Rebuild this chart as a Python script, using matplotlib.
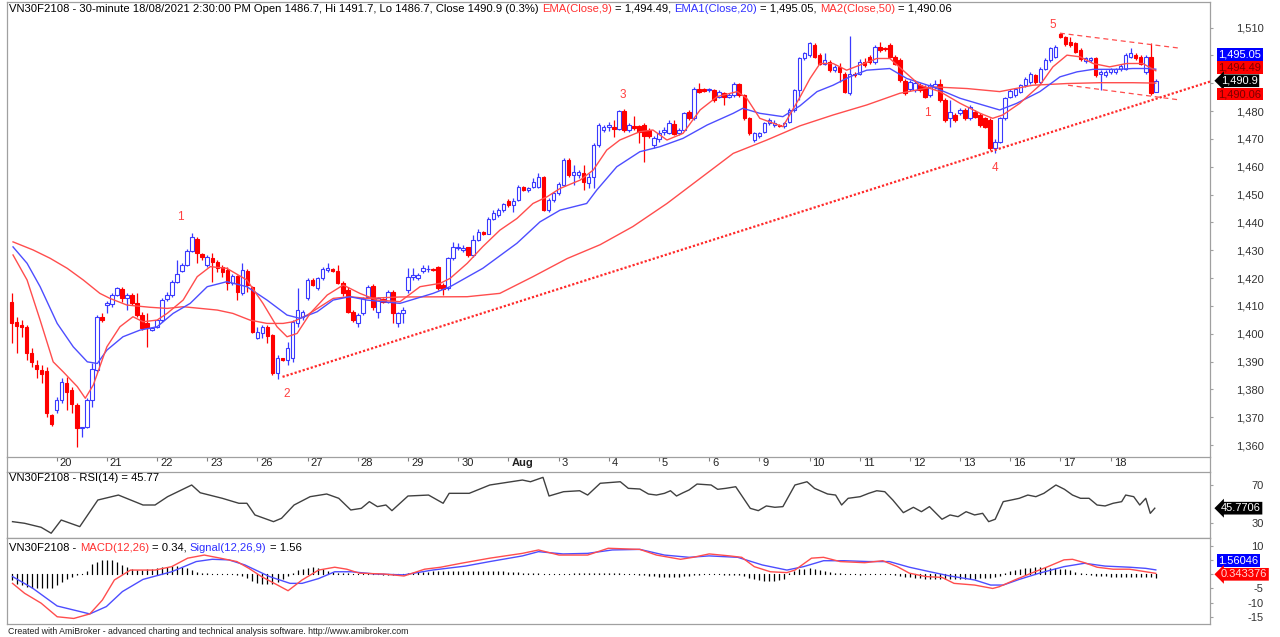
import matplotlib
matplotlib.use("Agg")
import matplotlib.pyplot as plt
import matplotlib.transforms as mtransforms
from matplotlib.lines import Line2D
import numpy as np

plt.rcParams['font.family'] = ['Liberation Sans', 'DejaVu Sans']

# ---------------------------------------------------------------------------
# VN30F2108, 30-minute bars, 19/07/2021 (partial) .. 18/08/2021
# ---------------------------------------------------------------------------
opens = [
    1411.5, 1404.3, 1403.0, 1402.5, 1393.2, 1388.7, 1387.0, 1386.7, 1370.8,          # 19
    1372.6, 1376.2, 1382.4, 1379.8, 1374.4, 1366.0, 1366.4, 1376.2, 1387.0, 1406.1,  # 20
    1410.3, 1410.6, 1413.9, 1415.9, 1412.7, 1413.9, 1410.9, 1406.7, 1403.7, 1401.5,  # 21
    1402.5, 1404.9, 1412.3, 1413.9, 1418.7, 1422.6, 1424.7, 1429.8, 1434.2, 1428.6,  # 22
    1424.7, 1427.1, 1425.9, 1423.8, 1422.9, 1418.1, 1420.7, 1414.5, 1422.6, 1416.9,  # 23
    1398.3, 1400.1, 1402.5, 1399.5, 1386.0, 1391.1, 1390.5, 1391.1, 1403.7, 1406.1,  # 26
    1412.7, 1419.3, 1416.3, 1419.9, 1422.9, 1423.1, 1422.6, 1418.1, 1415.7, 1407.9,  # 27
    1403.7, 1407.3, 1413.3, 1417.1, 1407.9, 1412.3, 1411.5, 1415.1, 1403.7, 1407.3,  # 28
    1415.7, 1420.5, 1419.9, 1422.6, 1423.1, 1423.3, 1423.8, 1417.5, 1416.3, 1427.1,  # 29
    1430.7, 1430.1, 1431.0, 1428.3, 1433.7, 1436.6, 1436.0, 1441.4, 1442.6, 1444.4,  # 30
    1447.8, 1446.2, 1448.0, 1452.8, 1451.6, 1452.8, 1452.6, 1456.4, 1444.4, 1448.0,  # Aug 2
    1450.4, 1453.4, 1462.4, 1457.0, 1457.0, 1457.6, 1454.2, 1456.4, 1467.8, 1473.2,  # 3
    1474.4, 1474.4, 1473.4, 1480.1, 1473.2, 1474.6, 1474.6, 1475.0, 1473.2, 1467.8,  # 4
    1469.8, 1472.6, 1472.2, 1475.4, 1472.0, 1473.2, 1479.8, 1477.4, 1488.1, 1487.8,  # 5
    1487.5, 1487.5, 1485.2, 1486.4, 1485.2, 1485.8, 1489.7, 1485.8, 1477.4, 1469.6,  # 6
    1471.0, 1472.6, 1475.6, 1475.0, 1475.0, 1474.7, 1476.2, 1480.4, 1487.5, 1498.9,  # 9
    1500.1, 1503.7, 1500.1, 1497.1, 1497.7, 1494.7, 1495.9, 1493.5, 1486.4, 1493.5,  # 10
    1493.5, 1497.7, 1499.5, 1497.7, 1503.1, 1502.5, 1503.7, 1499.5, 1498.3, 1490.9,  # 11
    1487.8, 1487.5, 1489.3, 1488.7, 1485.8, 1488.7, 1489.9, 1484.0, 1477.4, 1478.6,  # 12
    1479.2, 1480.4, 1477.4, 1479.8, 1478.6, 1477.4, 1476.8, 1466.6, 1469.0, 1477.4,  # 13
    1485.2, 1485.8, 1487.0, 1489.3, 1490.5, 1492.9, 1490.5, 1495.3, 1498.3, 1499.5,  # 16
    1507.7, 1506.7, 1504.9, 1504.3, 1501.9, 1498.1, 1498.3, 1498.9, 1493.5, 1492.9,  # 17
    1494.1, 1494.1, 1495.0, 1495.3, 1499.5, 1500.1, 1499.5, 1494.1, 1499.5, 1486.7,  # 18
]
highs = [
    1414.5, 1406.0, 1404.9, 1403.1, 1394.7, 1390.5, 1388.7, 1388.1, 1371.0,
    1377.4, 1384.0, 1384.5, 1381.0, 1375.0, 1366.6, 1377.0, 1389.3, 1406.7, 1407.3,
    1411.9, 1414.5, 1416.8, 1416.9, 1414.5, 1414.5, 1414.5, 1407.9, 1407.3, 1402.5,
    1405.1, 1412.7, 1415.1, 1419.3, 1426.5, 1425.3, 1430.3, 1436.3, 1434.6, 1429.0,
    1428.3, 1428.9, 1426.5, 1424.7, 1424.1, 1421.3, 1421.1, 1425.3, 1423.1, 1417.1,
    1402.5, 1403.1, 1403.0, 1399.9, 1392.3, 1391.3, 1397.1, 1404.9, 1416.3, 1408.5,
    1419.9, 1420.0, 1420.5, 1424.1, 1425.3, 1423.5, 1424.7, 1419.0, 1416.9, 1408.5,
    1407.3, 1413.3, 1417.5, 1417.8, 1413.1, 1412.7, 1415.7, 1415.7, 1407.9, 1409.5,
    1423.5, 1423.5, 1421.7, 1424.7, 1424.7, 1423.5, 1424.3, 1418.1, 1427.7, 1433.1,
    1432.5, 1431.9, 1431.3, 1435.5, 1437.8, 1437.0, 1442.0, 1444.4, 1445.0, 1447.0,
    1448.4, 1448.6, 1453.4, 1453.2, 1452.8, 1455.8, 1457.6, 1456.6, 1448.6, 1451.0,
    1454.6, 1463.0, 1463.0, 1460.6, 1459.0, 1460.6, 1457.6, 1468.4, 1475.6, 1475.0,
    1476.0, 1476.8, 1480.4, 1480.6, 1475.6, 1478.2, 1475.0, 1475.6, 1474.0, 1471.0,
    1473.2, 1474.4, 1476.8, 1476.8, 1473.8, 1479.8, 1480.4, 1488.7, 1490.2, 1488.2,
    1488.4, 1487.8, 1487.5, 1487.0, 1486.4, 1490.5, 1490.2, 1486.1, 1477.7, 1472.6,
    1472.6, 1476.2, 1477.4, 1476.8, 1475.4, 1476.0, 1481.0, 1488.1, 1499.5, 1501.3,
    1504.9, 1504.3, 1500.7, 1500.7, 1498.3, 1496.5, 1497.4, 1494.1, 1507.0, 1494.1,
    1498.6, 1498.9, 1500.1, 1503.7, 1504.9, 1503.1, 1504.3, 1500.1, 1498.9, 1491.5,
    1491.1, 1491.1, 1490.0, 1489.3, 1490.0, 1491.1, 1491.7, 1484.6, 1484.0, 1479.2,
    1481.0, 1481.0, 1482.2, 1480.4, 1479.2, 1478.0, 1477.4, 1470.0, 1478.0, 1485.2,
    1487.8, 1488.4, 1489.9, 1492.3, 1494.1, 1493.5, 1495.9, 1498.9, 1503.1, 1503.7,
    1508.0, 1507.1, 1506.7, 1504.9, 1502.5, 1499.5, 1499.5, 1499.5, 1494.7, 1494.7,
    1495.6, 1495.6, 1496.8, 1500.7, 1502.5, 1500.7, 1500.1, 1500.1, 1504.3, 1491.7,
]
lows = [
    1396.5, 1393.0, 1398.9, 1390.5, 1388.1, 1384.0, 1382.2, 1369.9, 1367.0,
    1371.4, 1375.0, 1372.6, 1371.4, 1359.4, 1363.0, 1366.0, 1373.8, 1386.4, 1404.3,
    1407.3, 1409.7, 1413.4, 1411.5, 1408.5, 1410.3, 1406.1, 1401.3, 1395.3, 1400.9,
    1401.9, 1404.3, 1411.8, 1413.3, 1418.3, 1422.3, 1424.3, 1429.5, 1425.3, 1426.5,
    1423.8, 1418.7, 1422.3, 1420.5, 1415.7, 1417.5, 1412.1, 1413.9, 1415.1, 1400.1,
    1398.0, 1398.3, 1396.5, 1385.1, 1383.6, 1390.3, 1388.7, 1389.9, 1402.5, 1404.9,
    1412.1, 1417.0, 1415.7, 1419.3, 1422.3, 1422.3, 1417.8, 1413.5, 1407.3, 1404.3,
    1402.5, 1406.7, 1412.7, 1408.5, 1405.5, 1411.0, 1411.1, 1403.7, 1402.5, 1404.0,
    1414.5, 1419.3, 1419.3, 1421.7, 1422.3, 1422.6, 1415.7, 1413.9, 1415.7, 1426.5,
    1430.1, 1429.5, 1427.7, 1427.7, 1433.4, 1435.5, 1435.8, 1440.8, 1442.0, 1443.8,
    1445.6, 1443.8, 1447.8, 1451.2, 1451.0, 1452.2, 1452.2, 1444.2, 1443.8, 1447.4,
    1449.8, 1453.1, 1456.4, 1453.4, 1456.0, 1451.6, 1452.2, 1452.2, 1467.2, 1472.6,
    1473.0, 1470.8, 1473.2, 1472.6, 1472.6, 1473.2, 1468.4, 1461.8, 1470.4, 1466.6,
    1469.0, 1471.4, 1471.8, 1471.4, 1471.4, 1472.9, 1476.8, 1476.8, 1486.4, 1487.0,
    1486.8, 1483.4, 1484.6, 1482.2, 1484.6, 1485.2, 1485.2, 1476.8, 1471.4, 1469.0,
    1470.4, 1472.0, 1475.0, 1474.4, 1474.4, 1474.0, 1475.8, 1479.8, 1484.0, 1498.3,
    1499.5, 1498.9, 1496.5, 1496.5, 1494.1, 1494.1, 1490.5, 1486.4, 1485.8, 1492.3,
    1493.0, 1496.0, 1497.1, 1497.1, 1501.3, 1501.6, 1498.9, 1496.5, 1490.5, 1485.8,
    1487.3, 1487.0, 1487.0, 1484.6, 1485.2, 1488.1, 1483.4, 1476.2, 1474.4, 1476.2,
    1478.6, 1476.8, 1476.8, 1477.4, 1474.4, 1473.8, 1466.0, 1464.9, 1468.4, 1476.8,
    1484.6, 1485.2, 1486.4, 1488.7, 1489.9, 1489.9, 1489.9, 1494.7, 1497.7, 1498.9,
    1506.1, 1503.5, 1503.1, 1500.7, 1498.1, 1497.4, 1497.7, 1492.3, 1487.5, 1492.3,
    1493.5, 1493.5, 1494.4, 1494.7, 1498.9, 1498.3, 1496.5, 1493.5, 1485.8, 1486.7,
]
closes = [
    1404.0, 1402.7, 1402.3, 1393.2, 1390.0, 1387.2, 1385.7, 1371.4, 1367.5,
    1376.2, 1382.8, 1379.2, 1374.7, 1366.0, 1366.4, 1376.2, 1387.5, 1406.1, 1404.9,
    1410.9, 1413.9, 1416.3, 1412.7, 1413.9, 1410.9, 1406.7, 1401.9, 1401.9, 1401.9,
    1404.9, 1412.1, 1413.9, 1418.7, 1421.4, 1424.7, 1429.8, 1434.6, 1428.9, 1427.4,
    1427.4, 1425.9, 1423.5, 1422.3, 1418.1, 1420.7, 1415.1, 1422.9, 1417.5, 1400.7,
    1400.7, 1402.5, 1399.2, 1386.0, 1391.1, 1390.5, 1394.7, 1404.3, 1408.5, 1407.9,
    1419.3, 1417.5, 1419.9, 1423.1, 1423.5, 1422.6, 1418.1, 1414.5, 1407.9, 1404.9,
    1406.7, 1412.7, 1416.9, 1409.7, 1412.7, 1411.5, 1415.1, 1407.5, 1407.3, 1408.5,
    1420.5, 1421.1, 1421.1, 1423.5, 1423.3, 1422.9, 1416.3, 1415.9, 1427.1, 1431.3,
    1431.3, 1430.7, 1428.3, 1433.7, 1436.6, 1436.0, 1441.4, 1443.2, 1444.4, 1446.5,
    1446.2, 1447.8, 1452.8, 1451.6, 1452.2, 1454.6, 1456.4, 1444.4, 1448.0, 1450.4,
    1453.8, 1462.4, 1457.0, 1458.2, 1458.2, 1454.6, 1456.4, 1467.8, 1475.0, 1474.4,
    1475.0, 1473.4, 1480.1, 1473.2, 1475.0, 1473.8, 1472.6, 1471.0, 1471.0, 1470.2,
    1472.0, 1473.2, 1475.6, 1471.8, 1473.2, 1479.2, 1477.4, 1488.1, 1487.0, 1487.3,
    1487.8, 1484.0, 1487.0, 1485.2, 1485.8, 1489.9, 1485.8, 1477.4, 1472.0, 1472.0,
    1472.0, 1475.6, 1476.8, 1475.8, 1474.7, 1475.6, 1480.4, 1487.5, 1498.9, 1500.7,
    1504.3, 1499.5, 1497.1, 1498.3, 1494.7, 1495.9, 1494.1, 1487.0, 1493.5, 1492.9,
    1497.7, 1496.5, 1497.7, 1503.1, 1501.9, 1502.2, 1499.5, 1497.1, 1491.1, 1486.4,
    1490.5, 1490.2, 1487.5, 1485.2, 1489.3, 1489.9, 1484.0, 1476.8, 1479.8, 1476.8,
    1480.4, 1477.4, 1481.6, 1478.0, 1475.0, 1474.4, 1466.6, 1469.0, 1477.4, 1484.6,
    1487.3, 1487.8, 1489.3, 1491.7, 1493.5, 1490.5, 1495.3, 1498.3, 1502.5, 1503.1,
    1506.7, 1504.1, 1503.7, 1501.3, 1498.6, 1498.9, 1498.9, 1492.9, 1494.1, 1494.1,
    1495.0, 1495.0, 1496.2, 1500.1, 1500.7, 1498.9, 1497.1, 1499.5, 1486.4, 1490.9,
]

# first bar of each session and its label
day_first_bar = [9, 19, 29, 39, 49, 59, 69, 79, 89, 99, 109, 119, 129, 139,
                 149, 159, 169, 179, 189, 199, 209, 219]
day_labels = ["20", "21", "22", "23", "26", "27", "28", "29", "30", "Aug", "3",
              "4", "5", "6", "9", "10", "11", "12", "13", "16", "17", "18"]

# moving averages (bar index, value)
ema9_x = [0.3, 3.1, 5.7, 8.3, 10.3, 13.1, 14.7, 16.3, 19.0, 21.6, 24.2, 26.2, 29.0,
          31.0, 34.2, 37.0, 39.6, 42.9, 46.9, 50.1, 52.9, 54.9, 56.9, 59.5, 62.9,
          66.1, 69.4, 72.8, 77.4, 81.4, 85.4, 87.4, 90.8, 93.9, 97.3, 100.7, 103.9,
          106.7, 109.3, 113.3, 115.9, 118.6, 121.2, 125.2, 127.8, 130.6, 133.8,
          137.2, 140.6, 144.6, 146.5, 149.1, 153.7, 157.1, 159.1, 161.1, 163.7,
          166.4, 169.0, 172.4, 175.0, 177.6, 181.0, 185.0, 189.0, 193.0, 195.5,
          197.5, 200.9, 204.9, 207.5, 210.3, 212.9, 215.5, 218.8, 222.2, 225.4, 228.0]
ema9_v = [1428.3, 1419.3, 1404.9, 1389.9, 1386.3, 1381.0, 1376.8, 1381.6, 1395.3,
          1402.5, 1406.1, 1404.3, 1404.9, 1407.3, 1412.1, 1420.5, 1424.1, 1423.5,
          1419.3, 1410.9, 1402.5, 1398.9, 1400.1, 1407.3, 1413.9, 1417.5, 1414.5,
          1412.1, 1411.5, 1416.9, 1418.1, 1419.9, 1425.3, 1431.3, 1437.2, 1441.4,
          1446.8, 1449.2, 1452.2, 1455.2, 1458.8, 1466.0, 1469.6, 1472.6, 1473.2,
          1469.6, 1472.0, 1480.4, 1485.2, 1487.0, 1484.6, 1477.4, 1474.4, 1485.0,
          1491.7, 1497.1, 1497.1, 1494.7, 1496.5, 1498.9, 1498.9, 1494.7, 1489.3,
          1487.0, 1482.8, 1479.2, 1477.4, 1478.6, 1482.8, 1489.3, 1495.9, 1500.1,
          1499.5, 1497.1, 1495.9, 1497.1, 1497.1, 1494.49]

ema20_x = [0.3, 3.1, 5.7, 9.1, 12.3, 15.1, 17.1, 19.0, 22.2, 25.6, 29.0, 32.2, 35.6,
           39.0, 42.9, 46.9, 50.9, 54.9, 57.5, 60.9, 64.1, 67.4, 70.8, 77.4, 84.0,
           87.4, 93.9, 100.7, 105.3, 109.3, 114.6, 116.6, 120.6, 125.2, 129.2, 133.8,
           138.6, 143.8, 145.7, 149.1, 153.7, 157.1, 160.5, 163.7, 167.0, 170.4,
           175.0, 178.4, 183.6, 189.0, 193.5, 196.9, 200.3, 204.9, 208.9, 212.3,
           215.5, 220.2, 223.4, 226.8, 228.0]
ema20_v = [1431.2, 1425.3, 1416.9, 1403.7, 1395.3, 1389.9, 1389.3, 1394.1, 1398.9,
           1401.3, 1402.5, 1407.3, 1410.9, 1416.9, 1418.7, 1416.9, 1412.1, 1406.7,
           1405.5, 1407.9, 1412.1, 1413.3, 1412.1, 1410.9, 1414.5, 1416.9, 1423.5,
           1432.5, 1440.2, 1444.4, 1446.8, 1451.6, 1460.0, 1465.4, 1467.2, 1470.2,
           1475.0, 1479.2, 1481.0, 1479.2, 1478.0, 1481.9, 1487.0, 1489.3, 1492.3,
           1494.7, 1495.3, 1491.7, 1488.7, 1484.6, 1482.2, 1480.4, 1482.8, 1487.0,
           1492.3, 1494.1, 1495.0, 1495.0, 1495.3, 1495.3, 1495.05]

ma50_x = [0.3, 4.3, 7.7, 11.1, 14.3, 17.6, 19.6, 23.0, 27.6, 31.0, 34.2, 37.6, 41.0,
          44.1, 47.5, 50.9, 54.1, 56.1, 58.9, 64.1, 67.4, 70.8, 77.4, 90.8, 97.3,
          103.9, 110.7, 117.3, 123.8, 130.6, 137.2, 143.8, 150.5, 157.1, 163.7,
          170.4, 177.0, 183.6, 190.4, 196.9, 203.5, 210.3, 216.8, 223.4, 228.0]
ma50_v = [1433.0, 1430.1, 1427.1, 1423.5, 1419.3, 1414.5, 1412.7, 1410.3, 1409.5,
          1409.1, 1409.7, 1409.1, 1408.5, 1407.3, 1404.9, 1403.7, 1403.7, 1404.3,
          1406.7, 1412.7, 1413.3, 1412.7, 1413.2, 1413.3, 1414.5, 1420.5, 1427.0,
          1432.0, 1438.5, 1446.8, 1455.8, 1464.8, 1469.6, 1474.7, 1478.6, 1482.2,
          1486.4, 1488.7, 1488.1, 1487.0, 1489.3, 1489.9, 1490.2, 1490.2, 1490.06]

# RSI(14)
rsi_x = [0.2, 2.6, 5.9, 7.9, 9.9, 13.6, 17.2, 21.3, 26.2, 28.6, 31.1, 35.9, 37.6, 42.0,
         45.3, 46.9, 48.5, 52.2, 53.8, 56.3, 59.5, 62.8, 65.2, 67.6, 69.7, 71.3, 72.9,
         74.6, 75.8, 79.0, 83.1, 86.0, 87.2, 91.2, 95.3, 101.8, 103.4, 105.9, 107.1,
         110.0, 113.2, 114.8, 117.3, 121.3, 122.9, 125.2, 126.9, 128.5, 130.1, 131.3,
         132.5, 133.8, 135.0, 136.6, 139.4, 140.7, 142.3, 144.3, 147.2, 148.8, 150.4,
         152.1, 153.7, 156.1, 158.5, 160.0, 162.6, 164.2, 165.4, 166.7, 169.1, 170.8,
         172.4, 174.0, 175.6, 177.7, 179.7, 181.3, 182.9, 185.4, 187.0, 188.6, 190.2,
         191.9, 193.5, 194.7, 196.0, 197.6, 199.2, 200.8, 202.5, 204.1, 205.7, 208.1,
         209.8, 211.4, 213.0, 214.7, 216.3, 217.9, 219.5, 221.2, 222.0, 223.6, 224.8,
         226.0, 226.9, 227.8]
rsi_v = [31.7, 30.0, 25.8, 19.6, 33.4, 26.5, 54.3, 59.5, 49.1, 49.1, 57.8, 70.0, 61.9,
         56.1, 50.9, 50.9, 38.7, 31.7, 35.2, 49.1, 57.8, 60.6, 56.1, 43.9, 45.6, 52.6,
         47.4, 49.1, 43.2, 58.5, 59.5, 50.9, 61.3, 61.3, 70.0, 75.2, 73.4, 78.0, 58.5,
         63.0, 64.0, 59.5, 71.8, 73.4, 66.5, 65.8, 60.6, 59.5, 61.3, 64.0, 58.5, 61.9,
         64.8, 71.0, 70.0, 65.5, 66.5, 68.2, 45.6, 43.2, 48.1, 46.7, 47.4, 70.0, 73.4,
         66.5, 60.6, 59.5, 49.1, 56.1, 57.8, 61.3, 64.0, 63.0, 54.3, 41.1, 46.7, 42.1,
         47.4, 34.2, 38.7, 36.9, 42.1, 38.7, 40.4, 31.7, 34.2, 52.6, 54.3, 56.1, 59.5,
         57.8, 61.3, 70.0, 65.5, 59.5, 56.1, 56.1, 49.1, 48.1, 50.9, 52.6, 59.5, 57.8,
         49.1, 56.1, 40.4, 45.77]

# MACD(12,26), Signal(12,26,9) and histogram
macd_x = [0.2, 2.6, 5.9, 9.1, 12.4, 15.6, 18.1, 20.5, 23.7, 28.6, 31.9, 35.1, 38.4,
          41.6, 44.9, 47.3, 49.8, 53.0, 55.1, 57.9, 61.2, 64.4, 66.8, 69.3, 74.2, 78.2,
          82.3, 85.5, 89.6, 95.3, 101.8, 105.0, 109.1, 114.8, 118.9, 125.2, 128.5,
          133.3, 135.8, 139.0, 143.1, 145.5, 148.0, 151.2, 154.5, 156.1, 159.4, 161.8,
          165.1, 170.0, 173.6, 176.5, 178.9, 182.2, 185.4, 187.8, 191.9, 195.5, 196.8,
          199.9, 203.2, 206.5, 209.7, 211.4, 213.8, 216.3, 219.5, 222.8, 226.0, 228.0]
macd_v = [-3.2, -6.7, -10.2, -15.0, -15.6, -14.0, -9.1, -2.0, 1.5, 1.5, 2.7, 5.7, 6.8,
          5.7, 4.5, 2.1, -0.8, -3.8, -5.8, -2.0, 1.5, 2.5, 1.8, 0.4, 0.1, -0.6, 1.8,
          2.5, 3.9, 5.7, 7.4, 8.6, 6.8, 6.8, 9.2, 8.8, 6.8, 5.3, 6.0, 7.2, 6.5, 6.0,
          2.7, 0.9, 0.6, 1.5, 5.7, 6.0, 4.5, 4.1, 4.8, 2.7, 0.4, -0.8, -1.1, -3.2,
          -3.8, -5.0, -4.4, -2.0, 0.4, 2.7, 5.1, 5.3, 4.1, 2.5, 1.8, 1.8, 0.9, 0.34]
signal_x = [0.2, 4.2, 9.1, 15.6, 18.9, 22.1, 26.2, 31.9, 36.8, 40.0, 43.3, 46.5, 51.4,
            55.5, 57.9, 61.2, 64.4, 67.7, 72.5, 78.2, 83.9, 90.4, 95.3, 101.8, 105.0,
            109.9, 114.8, 119.7, 125.2, 130.1, 135.0, 139.0, 144.7, 149.6, 154.5,
            157.8, 161.8, 165.9, 170.8, 174.9, 178.9, 183.0, 187.0, 191.9, 195.1,
            197.6, 200.8, 204.8, 209.7, 213.8, 217.9, 222.8, 226.0, 228.0]
signal_v = [-0.8, -4.9, -11.2, -14.0, -11.4, -6.1, -1.8, 0.9, 4.5, 5.3, 5.1, 3.3, -0.8,
            -3.2, -3.2, -1.5, 0.9, 0.9, 0.1, -0.2, 1.5, 2.9, 4.5, 6.5, 8.0, 7.2, 7.4,
            8.6, 8.8, 6.8, 6.0, 6.5, 6.0, 3.3, 1.5, 2.7, 4.8, 4.8, 4.5, 4.5, 2.5, 0.9,
            -0.6, -2.0, -3.8, -3.8, -1.8, 0.4, 2.7, 3.9, 2.9, 2.5, 2.1, 1.56]
hist_v = [
    -2.1, -3.3, -3.9, -4.5, -5.0, -5.0, -5.0, -5.0, -4.7, -3.8,
    -2.6, -1.5, -0.9, -0.4, 0.1, 1.2, 3.5, 4.4, 5.2, 5.2,
    5.0, 4.4, 3.3, 2.6, 2.0, 1.5, 1.5, 1.7, 2.0, 2.2,
    2.5, 2.6, 2.9, 3.1, 2.6, 2.1, 1.5, 0.9, 0.5, 0.3,
    0.2, 0.1, 0.1, 0.1, 0.0, -0.2, -0.5, -1.3, -2.2, -3.1,
    -3.5, -3.6, -3.4, -2.8, -1.8, -0.6, 0.6, 1.4, 2.0, 2.4,
    2.5, 2.2, 1.8, 1.3, 0.8, 0.5, 0.3, 0.3, 0.2, 0.2,
    0.2, 0.1, 0.1, 0.0, -0.1, -0.1, -0.2, -0.1, 0.1,
    0.3, 0.5, 0.7, 0.8, 0.9, 1.0, 1.0, 1.1, 1.2, 1.2,
    1.2, 1.2, 1.3, 1.3, 1.2, 1.2, 1.1, 1.1, 1.0, 1.0,
    0.9, 0.8, 0.7, 0.6, 0.5, 0.4, 0.3, 0.2, 0.1, 0.1,
    0.0, 0.1, 0.2, 0.3, 0.4, 0.5, 0.5, 0.6, 0.6, 0.5,
    0.4, 0.3, 0.3, 0.2, 0.1, 0.0,
    -0.3, -0.4, -0.6, -0.7, -0.8, -0.8, -0.9, -0.9, -0.8, -0.7, -0.5,
    -0.2, -0.1, 0.0, 0.1, 0.1, 0.0, -0.1, -0.2, -0.3, -0.3, -0.5,
    -1.2, -1.6, -2.0, -2.2, -2.3, -2.2, -2.0, -1.6,
    0.6, 1.2, 1.7, 2.0, 2.1, 2.0, 1.6,
    1.2, 0.8, 0.5, 0.3, 0.1, 0.0, 0.0, -0.1, 0.0, 0.0, 0.1, 0.1, 0.0, 0.0, -0.2,
    -0.6, -0.9, -1.1, -1.3, -1.4, -1.5, -1.6, -1.6, -1.7, -1.7, -1.7, -1.6, -1.6,
    -1.6, -1.5, -1.5, -1.4, -1.3, -1.2, -0.9, -0.5,
    0.4, 1.0, 1.5, 1.9, 2.2, 2.4, 2.6, 2.6, 2.5, 2.4, 2.2, 2.0, 1.8, 1.4,
    0.8, 0.4, 0.0, -0.3, -0.5, -0.6, -0.7, -0.8, -0.8, -0.8, -0.8, -0.8, -0.8,
    -0.9, -1.0, -1.1, -1.22,
]

# wave counts, support line and the small channel (bar index, price)
wave_text = ["1", "2", "3", "1", "4", "5"]
wave_x = [33.6, 54.9, 121.8, 182.4, 195.9, 207.5]
wave_y = [1441.9, 1378.3, 1485.7, 1479.3, 1459.5, 1510.9]
support_x = [54.0, 238.8]
support_y = [1384.5, 1490.6]
chan_hi_x = [208.9, 232.8]
chan_hi_y = [1508.0, 1502.6]
chan_lo_x = [210.5, 232.8]
chan_lo_y = [1489.3, 1484.0]

# axis scales
price_ticks = list(range(1360, 1511, 10))
rsi_ticks = [30, 70]
macd_ticks = [-15, -10, -5, 0, 5, 10]

# ---------------------------------------------------------------------------
W, H = 1280, 637
FRAME = "#a0a0a0"
UP = "#3a3aff"
DN = "#ff0000"
LRED = "#ff4d4d"
LBLUE = "#4d4dff"


def frac(left, top, right, bottom):
    return [left / W, 1 - bottom / H, (right - left) / W, (bottom - top) / H]


def chain_text(a, x, y, pieces, size):
    """Draws several coloured pieces one after the other on one line."""
    t = None
    for s, col in pieces:
        gap = (len(s) - len(s.lstrip(" "))) * 0.28 * size
        s = s.strip(" ")
        if t is None:
            t = a.text(x, y, s, color=col, fontsize=size, transform=a.transAxes,
                       ha="left", va="center")
        else:
            t = a.annotate(s, xy=(1, 0.5), xycoords=t, xytext=(gap, 0),
                           textcoords="offset points", ha="left", va="center",
                           fontsize=size, color=col)
    return t


def value_tag(a, val, text, fc, tc, dy=0.0, arrow=False):
    style = "larrow,pad=0.12" if arrow else "square,pad=0.12"
    a.annotate(text, xy=(1, val), xycoords=("axes fraction", "data"),
               xytext=(8 if arrow else 6, dy), textcoords="offset points",
               ha="left", va="center", fontsize=8, color=tc,
               bbox=dict(boxstyle=style, fc=fc, ec="none"),
               annotation_clip=False, zorder=10)


fig = plt.figure(figsize=(W / 100, H / 100), dpi=100)
ax = fig.add_axes(frac(7, 2, 1210, 457))
ax_rsi = fig.add_axes(frac(7, 471.7, 1210, 538.3), sharex=ax)
ax_macd = fig.add_axes(frac(7, 538.3, 1210, 624), sharex=ax)

for a in (ax, ax_rsi, ax_macd):
    for s in a.spines.values():
        s.set_color(FRAME)
        s.set_linewidth(0.9)
    a.yaxis.tick_right()
    a.tick_params(axis="y", length=2.5, color=FRAME, labelcolor="#333333",
                  labelsize=8, pad=36)

ax.set_xlim(-0.9, 238.8)
ax.set_ylim(1355.7, 1519.2)
ax_rsi.set_ylim(14.3, 83.9)
ax_macd.set_ylim(-17.56, 12.72)

# candles
o, hi, lo, c = (np.array(v) for v in (opens, highs, lows, closes))
xb = np.arange(len(c))
up = c >= o
dn = ~up
ax.vlines(xb[up], lo[up], hi[up], color=UP, lw=0.9, zorder=2)
ax.vlines(xb[dn], lo[dn], hi[dn], color=DN, lw=0.9, zorder=2)
ax.bar(xb[up], np.maximum(c[up] - o[up], 0.15), bottom=o[up], width=0.7,
       facecolor="white", edgecolor=UP, linewidth=0.8, zorder=3)
ax.bar(xb[dn], np.maximum(o[dn] - c[dn], 0.15), bottom=c[dn], width=0.7,
       facecolor=DN, edgecolor=DN, linewidth=0.8, zorder=3)

ax.plot(ma50_x, ma50_v, color=LRED, lw=1.0, zorder=4)
ax.plot(ema20_x, ema20_v, color=LBLUE, lw=1.0, zorder=4)
ax.plot(ema9_x, ema9_v, color=LRED, lw=1.0, zorder=4)

ax.plot(support_x, support_y, color="#ff2a2a", lw=1.6, ls=(0, (1.0, 0.9)), zorder=4)
ax.plot(chan_hi_x, chan_hi_y, color=LRED, lw=0.9, ls=(0, (4, 3)), zorder=4)
ax.plot(chan_lo_x, chan_lo_y, color=LRED, lw=0.9, ls=(0, (4, 3)), zorder=4)
for t, xw, yw in zip(wave_text, wave_x, wave_y):
    ax.text(xw, yw, t, color="#ff4040", fontsize=8.5, ha="center", va="center")

# right-hand scales; levels hidden behind the last-value tags stay unlabelled
hidden_price = {1490, 1500}
hidden_macd = {0, 5}
ax.set_yticks(price_ticks)
ax.set_yticklabels(["" if v in hidden_price else f"{v:,}" for v in price_ticks])
ax_rsi.set_yticks(rsi_ticks)
ax_rsi.set_yticklabels([str(v) for v in rsi_ticks])
ax_macd.set_yticks(macd_ticks)
ax_macd.set_yticklabels(["" if v in hidden_macd else str(v) for v in macd_ticks])
for a in (ax, ax_rsi, ax_macd):
    for lab in a.get_yticklabels():
        lab.set_ha("right")

# date axis under the price pane
ax.set_xticks(day_first_bar)
ax.set_xticklabels(day_labels)
ax.tick_params(axis="x", length=3, color="#808080", labelsize=8,
               labelcolor="#222222", pad=-2.5)
shift = mtransforms.ScaledTranslation(3 / 100, 0, fig.dpi_scale_trans)
for lab in ax.get_xticklabels():
    lab.set_ha("left")
    lab.set_transform(lab.get_transform() + shift)
    if lab.get_text() == "Aug":
        lab.set_fontweight("bold")
for a in (ax_rsi, ax_macd):
    a.tick_params(axis="x", bottom=False, labelbottom=False)
for xpx in (7, 1210):
    fig.add_artist(Line2D([xpx / W, xpx / W], [1 - 457 / H, 1 - 471.7 / H],
                          color=FRAME, lw=0.9))

# RSI pane
ax_rsi.plot(rsi_x, rsi_v, color="#404040", lw=1.0)

# MACD pane
hx = xb[:len(hist_v)]
ax_macd.vlines(hx, 0, hist_v, color="black", lw=0.9)
ax_macd.plot(hx, np.zeros(len(hist_v)), ls="none", marker="o", ms=0.9,
             mew=0, color="black")
ax_macd.plot(signal_x, signal_v, color=LBLUE, lw=1.0)
ax_macd.plot(macd_x, macd_v, color=LRED, lw=1.0)

# headers
chain_text(ax, 0.002, 0.985, [
    ("VN30F2108 - 30-minute 18/08/2021 2:30:00 PM Open 1486.7, Hi 1491.7, "
     "Lo 1486.7, Close 1490.9 (0.3%)", "black"),
    (" EMA(Close,9)", "#ff3030"), (" = 1,494.49,", "black"),
    (" EMA1(Close,20)", "#3030ff"), (" = 1,495.05,", "black"),
    (" MA2(Close,50)", "#ff3030"), (" = 1,490.06", "black")], 8.15)
chain_text(ax_rsi, 0.002, 0.905, [("VN30F2108 - RSI(14) = 45.77", "black")], 8.15)
chain_text(ax_macd, 0.002, 0.887, [
    ("VN30F2108 -", "black"), (" MACD(12,26)", "#ff3030"), (" = 0.34,", "black"),
    (" Signal(12,26,9)", "#3030ff"), (" = 1.56", "black")], 8.15)

# last-value tags on the right axis
value_tag(ax, 1495.05, "1,495.05", "#0000ff", "white", dy=10.4)
value_tag(ax, 1494.49, "1,494.49", "#ff0000", "#7a0000", dy=2.2)
value_tag(ax, 1490.9, "1,490.9", "black", "white", arrow=True)
value_tag(ax, 1490.06, "1,490.06", "#ff0000", "#7a0000", dy=-7.9)
value_tag(ax_rsi, 45.77, "45.7706", "black", "white", arrow=True)
value_tag(ax_macd, 1.56, "1.56046", "#0000ff", "white", dy=6.6)
value_tag(ax_macd, 0.34, "0.343376", "#ff0000", "#ffd6d6", dy=-0.7, arrow=True)

fig.text(8 / W, 1 - 631 / H,
         "Created with AmiBroker - advanced charting and technical analysis "
         "software. http://www.amibroker.com",
         fontsize=6.3, color="#222222", ha="left", va="center")

fig.savefig("out.png", dpi=100)
